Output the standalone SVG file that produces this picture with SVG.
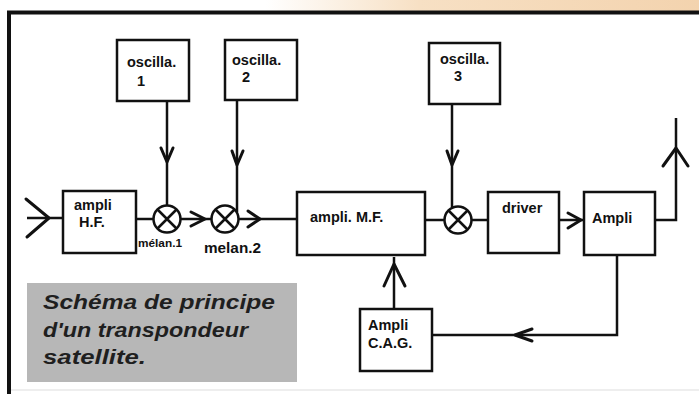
<svg xmlns="http://www.w3.org/2000/svg" width="699" height="394" viewBox="0 0 699 394">
<defs>
<linearGradient id="peach" x1="0" y1="0" x2="1" y2="0">
<stop offset="0" stop-color="#ffffff"/>
<stop offset="0.38" stop-color="#ffffff"/>
<stop offset="0.6" stop-color="#f7e0c4"/>
<stop offset="1" stop-color="#f3d3ae"/>
</linearGradient>
<style>
.box{fill:#fff;stroke:#111;stroke-width:2.5}
.ln{fill:none;stroke:#111;stroke-width:2.5;stroke-linejoin:miter}
.ah{fill:none;stroke:#111;stroke-width:3;stroke-linecap:round;stroke-linejoin:round}
.t{font-family:"Liberation Sans",Arial,sans-serif;font-weight:bold;font-size:14.5px;fill:#111}
.cap{font-family:"Liberation Sans",Arial,sans-serif;font-style:italic;font-weight:bold;font-size:21px;fill:#1f1f1f}
</style>
</defs>
<rect x="0" y="0" width="699" height="394" fill="#fff"/>
<rect x="0" y="0" width="699" height="11" fill="url(#peach)"/>
<line x1="7" y1="12.5" x2="699" y2="12.5" stroke="#111" stroke-width="4"/>
<line x1="9" y1="11" x2="9" y2="394" stroke="#111" stroke-width="4"/>
<line x1="11" y1="390" x2="699" y2="390" stroke="#ddd" stroke-width="1"/>

<g id="caption">
<rect x="27" y="283" width="270" height="99" fill="#b7b7b7"/>
<text class="cap" x="43" y="309" textLength="232" lengthAdjust="spacingAndGlyphs">Schéma de principe</text>
<text class="cap" x="43" y="337" textLength="205" lengthAdjust="spacingAndGlyphs">d'un transpondeur</text>
<text class="cap" x="43" y="364" textLength="103" lengthAdjust="spacingAndGlyphs">satellite.</text>
</g>

<g id="connectors">
<line class="ln" x1="27" y1="218" x2="63" y2="218"/>
<polyline class="ah" points="26,199 49,218 27,237"/>
<line class="ln" x1="136" y1="219" x2="153" y2="219"/>
<line class="ln" x1="181" y1="219" x2="211" y2="219"/>
<polyline class="ah" points="191,212 205,219 191,226"/>
<line class="ln" x1="239" y1="219" x2="297" y2="219"/>
<polyline class="ah" points="248,211 260,219 248,227"/>
<line class="ln" x1="425" y1="220" x2="444" y2="220"/>
<line class="ln" x1="472" y1="220" x2="488" y2="220"/>
<line class="ln" x1="559" y1="220" x2="584" y2="220"/>
<polyline class="ah" points="568,213 581,220 568,228"/>
<polyline class="ln" points="655,220 676,220 676,118"/>
<polyline class="ah" points="663,166 676,148 688,166"/>
<line class="ln" x1="167" y1="101" x2="167" y2="205"/>
<polyline class="ah" points="161,148 167,162 173,148"/>
<line class="ln" x1="237" y1="100" x2="237" y2="212"/>
<polyline class="ah" points="232,151 237,165 243,151"/>
<line class="ln" x1="452" y1="104" x2="452" y2="207"/>
<polyline class="ah" points="447,151 452,165 458,151"/>
<polyline class="ln" points="617,255 617,335 432,335"/>
<polyline class="ah" points="532,329 515,335 532,341"/>
<line class="ln" x1="394" y1="309" x2="394" y2="257"/>
<polyline class="ah" points="384,286 394,264 405,286"/>
</g>

<g id="osc1">
<rect class="box" x="117" y="40" width="72" height="61"/>
<text class="t" x="127" y="67">oscilla.</text>
<text class="t" x="137" y="86">1</text>
</g>
<g id="osc2">
<rect class="box" x="225" y="40" width="72" height="60"/>
<text class="t" x="232" y="65">oscilla.</text>
<text class="t" x="242" y="82">2</text>
</g>
<g id="osc3">
<rect class="box" x="429" y="43" width="71" height="61"/>
<text class="t" x="440" y="64">oscilla.</text>
<text class="t" x="454" y="81">3</text>
</g>
<g id="ampliHF">
<rect class="box" x="63" y="191" width="73" height="62"/>
<text class="t" x="74" y="210">ampli</text>
<text class="t" x="79" y="227">H.F.</text>
</g>
<g id="mixer1">
<circle class="ln" cx="167" cy="219" r="13.5"/>
<path class="ln" d="M157.5,209.5 L176.5,228.5 M176.5,209.5 L157.5,228.5"/>
<text class="t" x="138" y="247" style="font-size:10px;font-weight:900" textLength="44" lengthAdjust="spacingAndGlyphs">mélan.1</text>
</g>
<g id="mixer2">
<circle class="ln" cx="225" cy="219" r="13.5"/>
<path class="ln" d="M215.5,209.5 L234.5,228.5 M234.5,209.5 L215.5,228.5"/>
<text class="t" x="204" y="253" textLength="57" lengthAdjust="spacingAndGlyphs">melan.2</text>
</g>
<g id="ampliMF">
<rect class="box" x="297" y="192" width="128" height="63"/>
<text class="t" x="310" y="222">ampli. M.F.</text>
</g>
<g id="mixer3">
<circle class="ln" cx="458" cy="220" r="13.5"/>
<path class="ln" d="M448.5,210.5 L467.5,229.5 M467.5,210.5 L448.5,229.5"/>
</g>
<g id="driver">
<rect class="box" x="488" y="192" width="71" height="61"/>
<text class="t" x="502" y="213">driver</text>
</g>
<g id="ampli">
<rect class="box" x="584" y="192" width="71" height="63"/>
<text class="t" x="592" y="223">Ampli</text>
</g>
<g id="ampliCAG">
<rect class="box" x="360" y="309" width="72" height="62"/>
<text class="t" x="368" y="330">Ampli</text>
<text class="t" x="368" y="348">C.A.G.</text>
</g>
</svg>
